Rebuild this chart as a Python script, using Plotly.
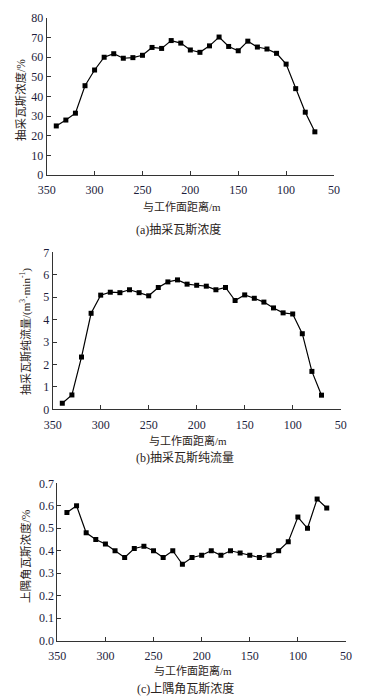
import plotly.graph_objects as go

W, H = 367, 699

distance = [340, 330, 320, 310, 300, 290, 280, 270, 260, 250, 240, 230, 220, 210,
            200, 190, 180, 170, 160, 150, 140, 130, 120, 110, 100, 90, 80, 70]

conc_a = [25, 28, 31.5, 45.5, 53.5, 60, 61.8, 59.5, 59.8, 61, 65, 64.5, 68.5, 67.2,
          63.7, 62.5, 65.8, 70.3, 65.5, 63.3, 68.2, 65.2, 64.2, 62, 56.5, 44, 32, 22]

flow_b = [0.27, 0.64, 2.33, 4.28, 5.09, 5.22, 5.2, 5.33, 5.2, 5.06, 5.43, 5.68, 5.77, 5.58,
          5.53, 5.49, 5.33, 5.43, 4.85, 5.1, 4.95, 4.78, 4.52, 4.3, 4.25, 3.37, 1.69, 0.63]

corner_c = [0.57, 0.60, 0.48, 0.45, 0.43, 0.40, 0.37, 0.41, 0.42, 0.40, 0.37, 0.40, 0.34, 0.37,
            0.38, 0.40, 0.38, 0.40, 0.39, 0.38, 0.37, 0.38, 0.40, 0.44, 0.55, 0.50, 0.63, 0.59]

x_ticks = [350, 300, 250, 200, 150, 100, 50]
x_title = "与工作面距离/m"
y_titles = ["抽采瓦斯浓度/%", "抽采瓦斯纯流量/(m<sup>3</sup>·min<sup>-1</sup>)", "上隅角瓦斯浓度/%"]
captions = ["(a)抽采瓦斯浓度", "(b)抽采瓦斯纯流量", "(c)上隅角瓦斯浓度"]

NUM_FONT = "Liberation Serif, Times New Roman, serif"
CJK_FONT = "Liberation Serif, Noto Sans CJK SC, serif"
NUM_COLOR = "#1d1d3c"
TXT_COLOR = "#2a2320"

def px_x(p):
    return p / W

def px_y(p):
    return 1 - p / H

# pixel boxes in page coords: (left, right, top, bottom)
boxes = [(46.7, 334.0, 18.0, 175.0),
         (52.7, 340.7, 252.3, 409.3),
         (57.3, 346.0, 483.3, 640.7)]
y_ranges = [[0, 80], [0, 7], [0, 0.7]]
y_dticks = [10, 1, 0.1]
y_formats = ["d", "d", ".1f"]
series = [conc_a, flow_b, corner_c]

fig = go.Figure()
layout = dict(width=W, height=H, margin=dict(l=0, r=0, t=0, b=0, pad=0, autoexpand=False),
              template="none", autosize=False,
              paper_bgcolor="white", plot_bgcolor="white", showlegend=False)

annotations = []
for i, (box, yr, dt, fmt, ys) in enumerate(zip(boxes, y_ranges, y_dticks, y_formats, series)):
    n = "" if i == 0 else str(i + 1)
    fig.add_trace(go.Scatter(x=distance, y=ys, mode="lines+markers",
                             xaxis="x" + n, yaxis="y" + n,
                             line=dict(color="black", width=1.2),
                             marker=dict(symbol="square", size=5, color="black"),
                             cliponaxis=False))
    l, r, t, b = box
    layout["xaxis" + n] = dict(domain=[px_x(l), px_x(r)], range=[350, 50], anchor="y" + n,
                               tickvals=x_ticks, ticks="inside", ticklen=4, tickwidth=1,
                               tickcolor="#333", showline=True, linecolor="#333", linewidth=1,
                               showgrid=False, zeroline=False, automargin=False,
                               ticklabelstandoff=4,
                               tickfont=dict(family=NUM_FONT, size=12, color=NUM_COLOR))
    layout["yaxis" + n] = dict(domain=[px_y(b), px_y(t)], range=yr, anchor="x" + n,
                               dtick=dt, tick0=0, tickformat=fmt, ticks="inside", ticklen=4,
                               tickwidth=1, tickcolor="#333", showline=True, linecolor="#333",
                               linewidth=1, showgrid=False, zeroline=False, automargin=False,
                               tickfont=dict(family=NUM_FONT, size=12, color=NUM_COLOR))

# x titles, captions, y titles (page pixel positions)
x_title_pos = [(182, 206.7), (188, 440), (193, 670)]
cap_pos = [(178, 229.3), (185, 458.3), (185, 688)]
y_title_pos = [(20, 100), (25, 332), (25, 556)]
y_title_sizes = [11.5, 11, 11.5]

for i in range(3):
    xp, yp = x_title_pos[i]
    annotations.append(dict(x=px_x(xp), y=px_y(yp), xref="paper", yref="paper",
                            text=x_title, showarrow=False, xanchor="center", yanchor="middle",
                            font=dict(family=CJK_FONT, size=11, color=TXT_COLOR)))
    xp, yp = cap_pos[i]
    annotations.append(dict(x=px_x(xp), y=px_y(yp), xref="paper", yref="paper",
                            text=captions[i], showarrow=False, xanchor="center", yanchor="middle",
                            font=dict(family=CJK_FONT, size=12, color=TXT_COLOR)))
    xp, yp = y_title_pos[i]
    annotations.append(dict(x=px_x(xp), y=px_y(yp), xref="paper", yref="paper",
                            text=y_titles[i], showarrow=False, xanchor="center", yanchor="middle",
                            textangle=-90,
                            font=dict(family=CJK_FONT, size=y_title_sizes[i], color=TXT_COLOR)))

layout["annotations"] = annotations
fig.update_layout(**layout)
# remove the default 8px page margin so the 367x699 figure fills the window exactly
fig.write_html("out.html",
               config={"displayModeBar": False, "staticPlot": True},
               post_script="document.body.style.margin='0';document.body.style.overflow='hidden';")
